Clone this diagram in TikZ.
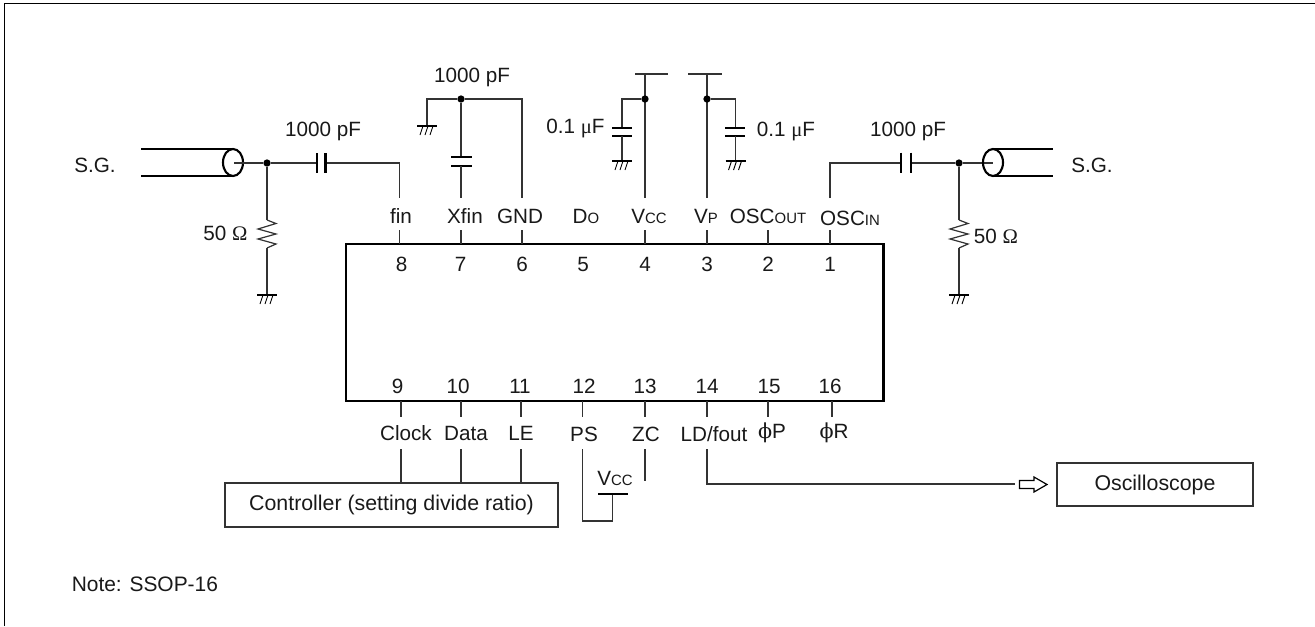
\documentclass[tikz,border=0pt]{standalone}
\usepackage{fontspec}
\setmainfont{Liberation Sans}
\newfontfamily\symfont{Liberation Serif}
\newfontfamily\phifont{DejaVu Serif}
\newcommand{\sm}[1]{{\fontsize{11.2}{13}\selectfont #1}}
\tikzset{
 x=0.75pt,y=-0.75pt,
 wire/.style={draw=black!80,line width=0.9pt},
 platew/.style={draw=black,line width=1.6pt},
 lbl/.style={inner sep=0pt,font=\fontsize{15.5}{18}\selectfont,text=black!90},
 dot/.style={circle,fill=black,inner sep=0pt,minimum size=5.5pt},
 boxn/.style={draw=black!80,line width=1pt,inner sep=0pt,outer sep=0pt,font=\fontsize{16}{18}\selectfont,text=black!90},
 gndbar/.style={draw=black,line width=1.3pt},
 hatch/.style={draw=black,line width=0.7pt},
}
\newcommand{\gnd}[2]{% x, y of bar
 \draw[gndbar] (#1-10,#2)--(#1+10,#2);
 \draw[hatch] (#1-7,#2+9)--(#1-4,#2) (#1-2,#2+9)--(#1+1,#2) (#1+3,#2+9)--(#1+6,#2);
}
\begin{document}
\begin{tikzpicture}
\useasboundingbox (0,0) rectangle (1315,626);
\fill[white] (0,0) rectangle (1315,626);
\coordinate (fTL) at (4.5,3.5);
\coordinate (fTR) at (1315,3.5);
\coordinate (fBL) at (4.5,626);
\draw[line width=1.2pt] (fTR)--(fTL)--(fBL);

% IC
\node[draw=black,line width=2pt,outer sep=0pt,minimum width=537.5*0.75pt,minimum height=157*0.75pt,inner sep=0pt,anchor=north west] (ic) at (346,244) {};

% pin numbers
\foreach \n/\x/\num in {p8/401.5/8,p7/460.5/7,p6/522/6,p5/583/5,p4/645/4,p3/707/3,p2/768/2,p1/830/1}{
 \node[lbl] (\n) at (\x,264) {\num};
}
\foreach \n/\x/\num in {q9/397.5/9,q10/458/10,q11/520/11,q12/584/12,q13/645/13,q14/707/14,q15/769/15,q16/830/16}{
 \node[lbl] (\n) at (\x,386) {\num};
}
\foreach \x in {399.5,461,522,645,707,768,830}{ \draw[wire] (\x,230)--(\x,244); }
\foreach \x in {401,461,521,582.5,645,707,768,832}{ \draw[wire] (\x,401)--(\x,417); }

% top pin labels
\node[lbl] (lfin) at (401,216) {fin};
\node[lbl] (lxfin) at (465,216) {Xfin};
\node[lbl] (lgnd) at (520,216) {GND};
\node[lbl] (ldo) at (586,216) {D\sm{O}};
\node[lbl] (lvcc) at (649,216) {V\sm{CC}};
\node[lbl] (lvp) at (706,216) {V\sm{P}};
\node[lbl] (losco) at (768,216) {OSC\sm{OUT}};
\node[lbl] (losci) at (850,218) {OSC\sm{IN}};

% bottom pin labels
\node[lbl] (lclock) at (406,433) {Clock};
\node[lbl] (ldata) at (466,433) {Data};
\node[lbl] (lle) at (521,433) {LE};
\node[lbl] (lps) at (584,434) {PS};
\node[lbl] (lzc) at (646,434) {ZC};
\node[lbl] (lld) at (714,434) {LD/fout};
\node[lbl] (lphip) at (772,433) {{\phifont ϕ}P};
\node[lbl] (lphir) at (834,433) {{\phifont ϕ}R};

% controller, oscilloscope
\node[boxn,minimum width=333*0.75pt,minimum height=44*0.75pt,anchor=north west] (ctrl) at (225,483) {Controller (setting divide ratio)\hspace{3pt}};
\node[boxn,minimum width=196*0.75pt,minimum height=43*0.75pt,anchor=north west] (osc) at (1057,463) {Oscilloscope};
\draw[wire] (401,449)--(401,483) (461,449)--(461,483) (521,449)--(521,483);

% PS to Vcc
\coordinate (ps1) at (582.5,449);
\coordinate (ps2) at (582.5,521);
\coordinate (ps3) at (612.5,521);
\coordinate (ps4) at (612.5,494);
\draw[wire] (ps1)--(ps2)--(ps3)--(ps4);
\draw[gndbar] (598,494)--(628,494);
\node[lbl] (lvccb) at (615,478) {V\sm{CC}};
\draw[wire] (645,449)--(645,481);

% LD/fout to oscilloscope
\coordinate (ld1) at (707,449);
\coordinate (ld2) at (707,484);
\coordinate (ld3) at (1015,484);
\draw[wire] (ld1)--(ld2)--(ld3);
\draw[draw=black,line width=0.9pt,fill=white] (1019.5,480.5)--(1034,480.5)--(1034,477)--(1047,484.5)--(1034,492)--(1034,488.5)--(1019.5,488.5)--cycle;

% left coax
\coordinate (cl) at (234,163);
\draw[draw=black,line width=1.6pt] (141,149)--(233,149) (141,176)--(233,176);
\draw[draw=black,line width=1.6pt] (233,162.5) ellipse [x radius=10,y radius=13.5];
\node[dot] (jl) at (267,163) {};
\draw[wire] (cl)--(jl);
\coordinate (capl) at (317,163);
\coordinate (capr) at (325.5,163);
\coordinate (fint) at (399.5,163);
\draw[wire] (jl)--(capl) (capr)--(fint)--(399.5,198);
\draw[platew] (317,153)--(317,173) (325.5,153)--(325.5,173);
\node[lbl] (l1000a) at (323,131) {1000 pF};
\draw[wire] (jl)--(267,220);
\draw[wire] (267,220)--(276,223.5)--(258,229)--(276,234)--(258,239)--(276,244)--(267,248);
\draw[wire] (267,248)--(267,295);
\gnd{267}{295}
\node[lbl] (l50a) at (225.5,233) {50 {\symfont Ω}};

% Xfin
\node[dot] (jx) at (461,99) {};
\coordinate (xg) at (427,99);
\coordinate (xr) at (522,99);
\draw[wire] (427,126)--(xg)--(jx)--(xr)--(522,198);
\draw[wire] (jx)--(461,157);
\draw[platew] (451,157)--(472,157) (451,166)--(472,166);
\draw[wire] (461,166)--(461,198);
\gnd{427}{126}
\node[lbl] (l1000b) at (472,77) {1000 pF};

% Vcc
\draw[wire] (635,74)--(668,74);
\draw[wire] (645,74)--(645,198);
\node[dot] (jv) at (645,99) {};
\draw[wire] (jv)--(622,99)--(622,128);
\draw[platew] (612,128)--(632,128) (612,136)--(632,136);
\draw[wire] (622,136)--(622,161);
\gnd{622}{161}
\node[lbl] (l01a) at (575.5,128) {0.1 {\symfont μ}F};

% Vp
\draw[wire] (688,74)--(722,74);
\draw[wire] (707,74)--(707,198);
\node[dot] (jp) at (707,99) {};
\draw[wire] (jp)--(735.5,99)--(735.5,128);
\draw[platew] (725,128)--(745,128) (725,136)--(745,136);
\draw[wire] (735.5,136)--(735.5,161);
\gnd{735.5}{161}
\node[lbl] (l01b) at (786,131) {0.1 {\symfont μ}F};

% OSC IN
\coordinate (oscc) at (830,163);
\coordinate (capl2) at (901,163);
\coordinate (capr2) at (911,163);
\node[dot] (jr) at (959,163) {};
\draw[wire] (830,198)--(oscc)--(capl2) (capr2)--(jr);
\draw[platew] (901,152.5)--(901,172.5) (911,152.5)--(911,172.5);
\node[lbl] (l1000c) at (908,131) {1000 pF};
\draw[wire] (jr)--(993,163);
\draw[draw=black,line width=1.6pt] (993,149)--(1053,149) (993,176)--(1053,176);
\draw[draw=black,line width=1.6pt] (993,162.5) ellipse [x radius=10,y radius=13.5];
\draw[wire] (jr)--(959,220);
\draw[wire] (959,220)--(968,223.5)--(950,229)--(968,234)--(950,239)--(968,244)--(959,248);
\draw[wire] (959,248)--(959,295);
\gnd{959}{295}
\node[lbl] (l50b) at (996,236) {50 {\symfont Ω}};

% SG
\node[lbl] (sgl) at (95,165) {S.G.};
\node[lbl] (sgr) at (1092,165) {S.G.};
\node[lbl,anchor=west,font=\fontsize{15.7}{18}\selectfont] (note) at (71.5,584) {Note: SSOP-16};
\end{tikzpicture}
\end{document}
